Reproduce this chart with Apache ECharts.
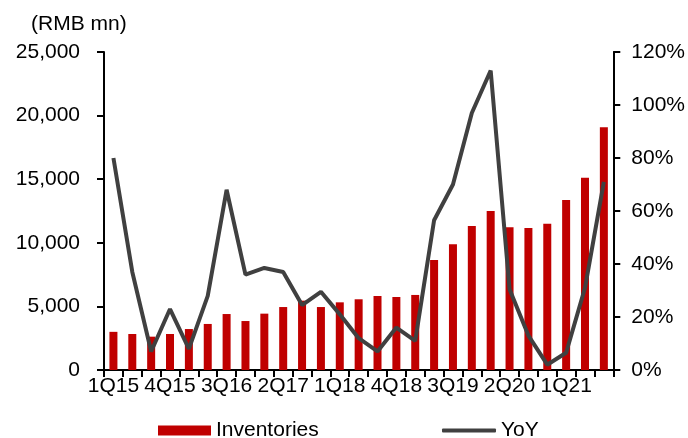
<!DOCTYPE html>
<html>
<head>
<meta charset="utf-8">
<script src="https://cdn.jsdelivr.net/npm/echarts@6/dist/echarts.min.js"></script>
<style>html,body{margin:0;padding:0;background:#fff}#c{width:688px;height:438px}</style>
</head>
<body>
<div id="c"></div>
<script>
var categories = ['1Q15','2Q15','3Q15','4Q15','1Q16','2Q16','3Q16','4Q16','1Q17','2Q17','3Q17','4Q17','1Q18','2Q18','3Q18','4Q18','1Q19','2Q19','3Q19','4Q19','1Q20','2Q20','3Q20','4Q20','1Q21','2Q21','3Q21'];
var inventories = [3000,2830,2620,2830,3220,3620,4400,3850,4430,4950,5450,4950,5320,5560,5820,5740,5900,8650,9880,11320,12500,11220,11160,11500,13360,15120,19080];
var yoy = [80,37,7,23,8,28,68,36,38.5,37,24.5,29.5,21,12,7,16,11,56.5,70,97,113,30.5,13,2,6.5,31,71];
var leftTicks = [0,5000,10000,15000,20000,25000];
var rightTicks = [0,20,40,60,80,100,120];

var font = 'Liberation Sans, Arial, sans-serif';
var fs = 21;
var chart = echarts.init(document.getElementById('c'), null, {renderer:'canvas'});
chart.setOption({
  animation: false,
  textStyle: {fontFamily: font},
  title: {text: '(RMB mn)', left: 26, top: 9, textStyle: {fontSize: fs, fontWeight: 'normal', color: '#000', fontFamily: font}},
  legend: [
    {data: [{name: 'Inventories', icon: 'rect'}], left: 158, top: 420, padding: 0, itemWidth: 53, itemHeight: 10, textStyle: {fontSize: fs, color: '#000', fontFamily: font}},
    {data: [{name: 'YoY', icon: 'roundRect'}], left: 442, top: 420, padding: 0, itemWidth: 54, itemHeight: 4, itemStyle: {color: '#404040'}, textStyle: {fontSize: fs, color: '#000', fontFamily: font}}
  ],
  grid: {left: 104, right: 74, top: 52, bottom: 68, containLabel: false},
  xAxis: {
    type: 'category', data: categories, boundaryGap: true,
    axisLine: {lineStyle: {color: '#000', width: 2}},
    axisTick: {show: true, length: 7, alignWithLabel: false, interval: 0, lineStyle: {color: '#000', width: 2}},
    axisLabel: {interval: 2, color: '#000', fontSize: fs, margin: 6, fontFamily: font}
  },
  yAxis: [
    {type: 'value', min: leftTicks[0], max: leftTicks[leftTicks.length-1], interval: 5000, position: 'left',
     axisLine: {show: true, lineStyle: {color: '#000', width: 2}},
     axisTick: {show: true, length: 7, lineStyle: {color: '#000', width: 2}},
     splitLine: {show: false},
     axisLabel: {color: '#000', fontSize: fs, margin: 24, fontFamily: font,
       formatter: function(v){return v.toLocaleString('en-US');}}},
    {type: 'value', min: rightTicks[0], max: rightTicks[rightTicks.length-1], interval: 20, position: 'right',
     axisLine: {show: true, lineStyle: {color: '#000', width: 2}},
     axisTick: {show: true, length: 7, lineStyle: {color: '#000', width: 2}},
     splitLine: {show: false},
     axisLabel: {color: '#000', fontSize: fs, margin: 18, fontFamily: font, formatter: '{value}%'}}
  ],
  series: [
    {name: 'Inventories', type: 'bar', data: inventories, barWidth: 8, itemStyle: {color: '#C00000'}, yAxisIndex: 0},
    {name: 'YoY', type: 'line', data: yoy, yAxisIndex: 1, symbol: 'none', lineStyle: {color: '#404040', width: 4}, itemStyle: {color: '#404040'}}
  ]
});
</script>
</body>
</html>
